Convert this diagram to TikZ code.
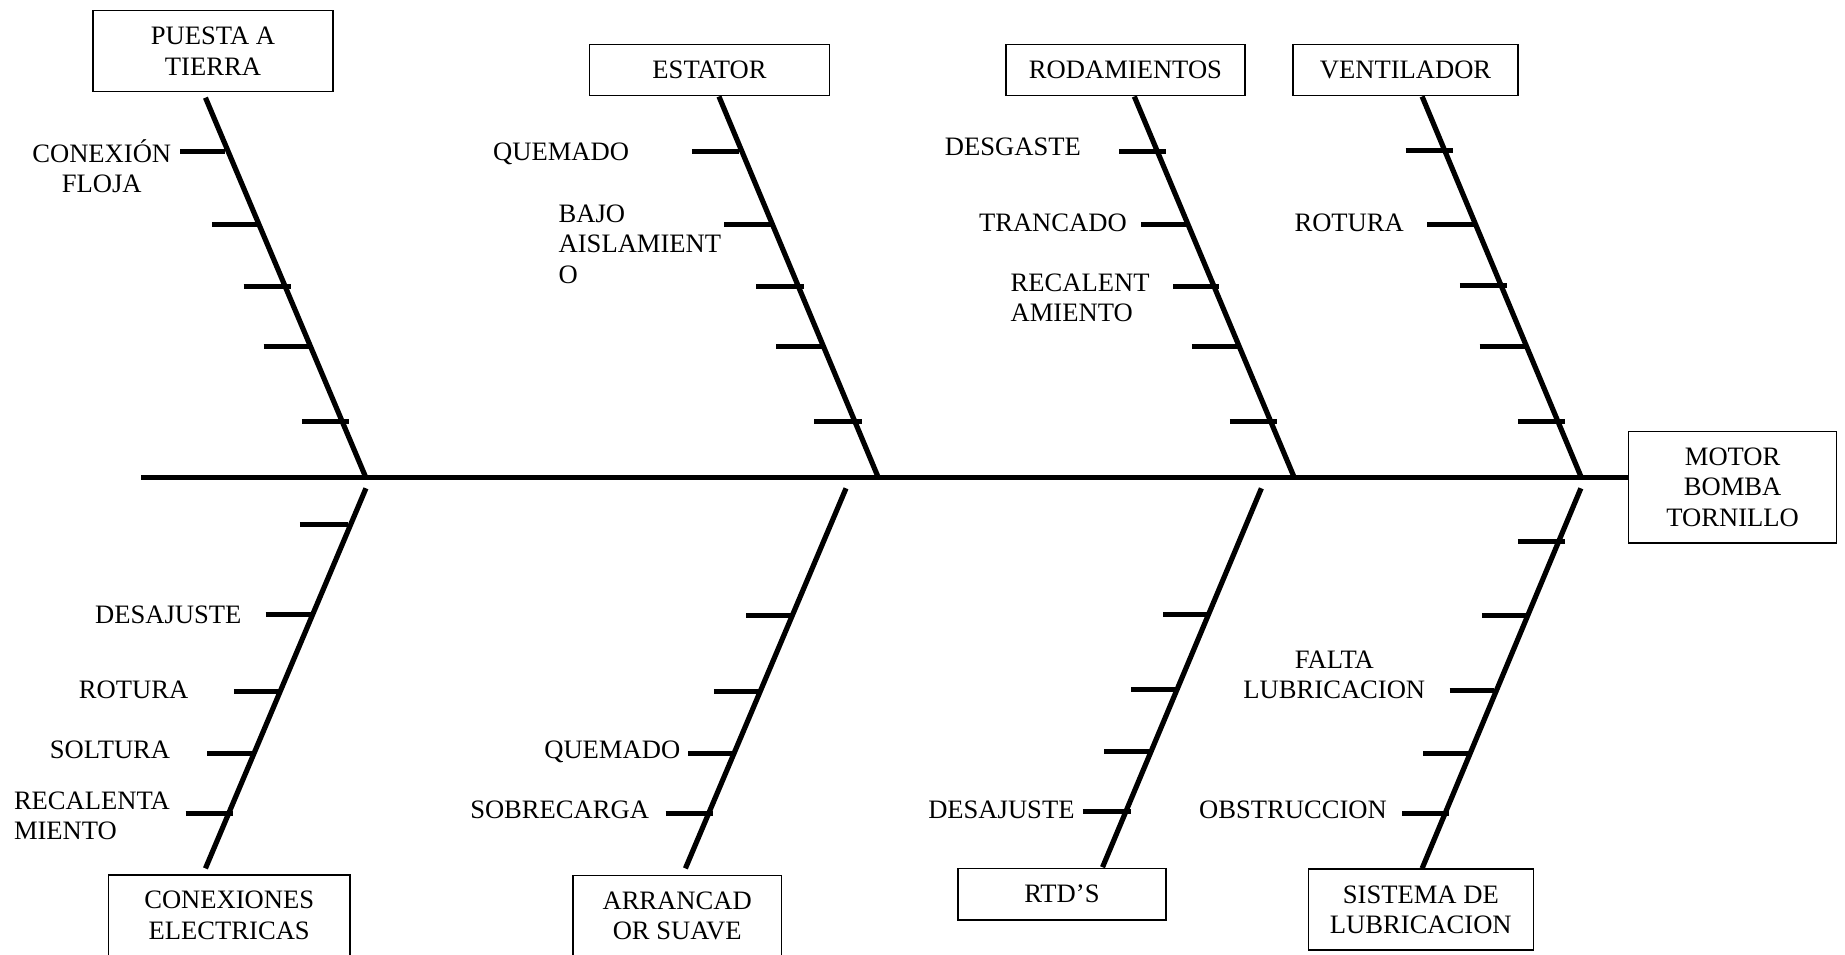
\documentclass[tikz,border=0pt]{standalone}
\usepackage{fontspec}
\setmainfont{Liberation Serif}
\begin{document}
\begin{tikzpicture}[x=0.5pt,y=-0.5pt,
  every node/.style={font=\fontsize{11.3}{12.9}\selectfont, inner sep=0pt},
  cause/.style={draw, line width=0.6pt, align=center},
  bone/.style={line width=2.2pt},
  rib/.style={line width=2.1pt},
  lblc/.style={align=center, anchor=base},
  lbll/.style={align=left, anchor=base west},
  lblr/.style={anchor=base east},
]
\useasboundingbox (0,0) rectangle (1568,811);
\clip (0,0) rectangle (1568,811);

% cause boxes
\node[cause, minimum width=102pt, minimum height=34.5pt] (puesta) at (181,43.5) {PUESTA A\\TIERRA};
\node[cause, minimum width=102pt, minimum height=21.5pt] (estator) at (603,59.5) {ESTATOR};
\node[cause, minimum width=101.5pt, minimum height=21.5pt] (rodam) at (956.5,59.5) {RODAMIENTOS};
\node[cause, minimum width=95.5pt, minimum height=21.5pt] (venti) at (1194.5,59.5) {VENTILADOR};
\node[cause, minimum width=88.5pt, minimum height=47.5pt] (motor) at (1472.5,414) {MOTOR\\BOMBA\\TORNILLO};
\node[cause, minimum width=102.5pt, minimum height=34.5pt] (conex) at (194.8,778) {CONEXIONES\\ELECTRICAS};
\node[cause, minimum width=88.5pt, minimum height=34.5pt] (arran) at (575.5,778.5) {ARRANCAD\\OR SUAVE};
\node[cause, minimum width=88.5pt, minimum height=22pt] (rtd) at (902.5,760) {RTD’S};
\node[cause, minimum width=95.5pt, minimum height=34.5pt] (sist) at (1207.5,773) {SISTEMA DE\\LUBRICACION};

% spine ends
\coordinate (tail) at (120,406);
\coordinate (p1) at (174.6,83);   \coordinate (p2) at (311,406);
\coordinate (e1) at (611,82);     \coordinate (e2) at (746.5,406);
\coordinate (r1) at (964,82);     \coordinate (r2) at (1100,406);
\coordinate (v1) at (1208.6,82);  \coordinate (v2) at (1344,406);
\coordinate (c1) at (311,415);    \coordinate (c2) at (174.6,738);
\coordinate (a1) at (719,415);    \coordinate (a2) at (582.5,738);
\coordinate (t1) at (1072,415);   \coordinate (t2) at (937,737);
\coordinate (s1) at (1343.5,415); \coordinate (s2) at (1208.6,738);

% backbone and branches
\draw[bone] (tail) -- (tail -| motor.west);
\foreach \u/\v in {p1/p2,e1/e2,r1/r2,v1/v2,c1/c2,a1/a2,t1/t2,s1/s2}
  \draw[bone] (\u) -- (\v);

% sub-cause ribs: left end / right end / height
\foreach \a/\b/\y in {
  153/191.6/128.8, 180/220/190.5, 207/247/243.7, 224/263/294.6, 256.5/296.5/358.5,
  588/628/128.5, 615.5/655/190.5, 642.5/683/243.5, 659.5/699/294.5, 692/732.5/358.5,
  951.3/991.1/128.5, 970/1008.6/190.5, 997/1036/243.5, 1013/1052/294.5, 1045.3/1085.2/358.5,
  1194.6/1234.8/127.5, 1213.1/1252.3/190.6, 1240.7/1280.6/242.8, 1257.5/1297/294.4, 1290/1329.9/358,
  254.8/295.9/446, 225.8/265.6/522.5, 198.8/237/587.5, 176.3/215/640.5, 157.7/198.2/691.5,
  634/673.4/523, 606.7/646.4/587.5, 584.8/622.2/640.5, 565.6/606/691.5,
  988.4/1025.5/522, 961.4/999.2/586, 938.5/976.6/639, 920.3/960.8/690,
  1290/1329.9/460.5, 1259.3/1298.4/523, 1232/1269.8/587, 1209.6/1248.8/640.5, 1191.8/1231.3/691}
  \draw[rib] (\a,\y) -- (\b,\y);

% sub-cause labels (multi-line labels sit on their last baseline)
\node[lblc] (l1) at (86.5,163.5) {CONEXIÓN\\FLOJA};
\node[lblr] (l2) at (535,136.5) {QUEMADO};
\node[lbll] (l3) at (474.4,240.5) {BAJO\\AISLAMIENT\\O};
\node[lblr] (l4) at (919,132.3) {DESGASTE};
\node[lblr] (l5) at (958,196.5) {TRANCADO};
\node[lbll] (l6) at (858.5,273.5) {RECALENT\\AMIENTO};
\node[lblr] (l7) at (1193.5,196.5) {ROTURA};
\node[lblr] (l8) at (205.6,529.5) {DESAJUSTE};
\node[lblr] (l9) at (160.4,594) {ROTURA};
\node[lblr] (l10) at (145,645) {SOLTURA};
\node[lbll] (l11) at (11.5,713.5) {RECALENTA\\MIENTO};
\node[lblr] (l12) at (578.5,644.5) {QUEMADO};
\node[lblr] (l13) at (552,695.5) {SOBRECARGA};
\node[lblr] (l14) at (913.6,696) {DESAJUSTE};
\node[lblc] (l15) at (1134,594) {FALTA\\LUBRICACION};
\node[lblr] (l16) at (1179,696) {OBSTRUCCION};
\end{tikzpicture}
\end{document}
